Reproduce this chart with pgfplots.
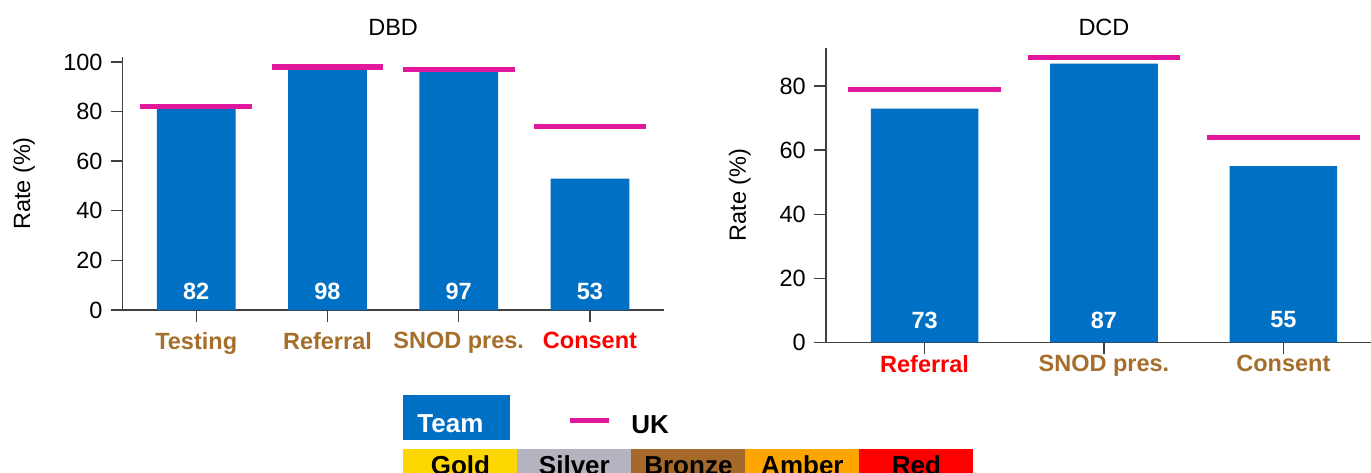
\documentclass[border=0pt]{standalone}
\usepackage{fontspec}
\setmainfont{Liberation Sans}
\usepackage{pgfplots}
\usepackage{pgfplotstable}
\pgfplotsset{compat=1.18}

\definecolor{teamblue}{HTML}{0070C4}
\definecolor{ukpink}{HTML}{E2189C}
\definecolor{bronzetxt}{HTML}{A66E2B}
\definecolor{axgray}{HTML}{404040}
\definecolor{gold}{HTML}{FFD700}
\definecolor{silver}{HTML}{B4B4C0}
\definecolor{bronze}{HTML}{A5692A}
\definecolor{amber}{HTML}{FFA500}

% team rate and UK rate per category
\pgfplotstableread{
x team uk
0 82 82
1 98 98
2 97 97
3 53 74
}\dbd
\pgfplotstableread{
x team uk
0 73 79
1 87 89
2 55 64
}\dcd

\pgfplotsset{
  rateaxis/.style={
    scale only axis, anchor=south west,
    axis x line*=bottom, axis y line*=left,
    axis line style={draw=axgray, line width=0.7pt},
    tick style={draw=axgray, line width=0.7pt},
    tick align=outside, major tick length=6pt,
    ymin=0, ytick distance=20,
    /pgf/number format/assume math mode=true,
    ylabel={Rate (\%)},
    xticklabel style={font=\bfseries},
    title style={anchor=base},
  },
  vallabel/.style={draw=none, mark=none, nodes near coords, point meta=explicit,
    every node near coord/.append style={anchor=center, text=white, font=\bfseries, yshift=#1}},
}

\begin{document}
\fontsize{11.75pt}{14pt}\selectfont
\begin{tikzpicture}[x=0.5pt, y=0.5pt]
\begin{axis}[rateaxis,
    at={(61.35pt,81pt)}, width=270.4pt, height=126.5pt,
    xmin=-0.56, xmax=3.56, ymax=102,
    xtick={0,1,2,3},
    xticklabels={\textcolor{bronzetxt}{Testing}, \textcolor{bronzetxt}{Referral},
                 \textcolor{bronzetxt}{SNOD pres.}, \textcolor{red}{Consent}},
    xticklabel style={yshift=-1pt},
    title={DBD}, title style={at={(rel axis cs:0.5,1)}, yshift=5pt},
    every axis y label/.style={at={([xshift=-49.35pt]rel axis cs:0,0.5)}, rotate=90, anchor=center},
]
\addplot[ybar, bar width=0.6, bar shift=0pt, fill=teamblue, draw=none] table[x=x, y=team] {\dbd};
\addplot[vallabel=9.15pt] table[x=x, y expr=0, meta=team] {\dbd};
\addplot[only marks, mark=-, mark size=27.9pt, mark options={draw=ukpink, line width=2.6pt}] table[x=x, y=uk] {\dbd};
\end{axis}

\begin{axis}[rateaxis,
    at={(412.95pt,64.85pt)}, width=278.05pt, height=147.3pt,
    xmin=-0.55, xmax=2.55, ymax=92,
    xtick={0,1,2},
    xticklabels={\textcolor{red}{Referral}, \textcolor{bronzetxt}{SNOD pres.},
                 \textcolor{bronzetxt}{Consent}},
    xticklabel style={yshift=3.5pt},
    title={DCD}, title style={at={(rel axis cs:0.5,1)}, yshift=0.35pt},
    every axis y label/.style={at={([xshift=-43pt]rel axis cs:0,0.5)}, rotate=90, anchor=center},
]
\addplot[ybar, bar width=0.6, bar shift=0pt, fill=teamblue, draw=none] table[x=x, y=team] {\dcd};
\addplot[vallabel=11.15pt] table[x=x, y expr=0, meta=team] {\dcd};
\addplot[only marks, mark=-, mark size=38.1pt, mark options={draw=ukpink, line width=2.6pt}] table[x=x, y=uk] {\dcd};
\end{axis}

% legend
\fill[teamblue] (403,32) rectangle (510,77);
\node[anchor=base west, inner sep=0, text=white, font=\fontsize{13pt}{15pt}\selectfont\bfseries] at (417,40) {Team};
\draw[ukpink, line width=2.6pt] (570,51.3) -- (609,51.3);
\node[anchor=base west, inner sep=0, font=\fontsize{13pt}{15pt}\selectfont\bfseries] at (631,38.7) {UK};
\foreach \c/\t [count=\i from 0] in {gold/Gold, silver/Silver, bronze/Bronze, amber/Amber, red/Red} {
  \fill[\c] (403.4+114*\i,23) rectangle (403.4+114*\i+114,-20);
  \node[anchor=base, inner sep=0, font=\fontsize{13pt}{15pt}\selectfont\bfseries] at (460.4+114*\i,-2) {\t};
}

\pgfresetboundingbox
\path[use as bounding box] (0,0) rectangle (1371,472);
\end{tikzpicture}
\end{document}
